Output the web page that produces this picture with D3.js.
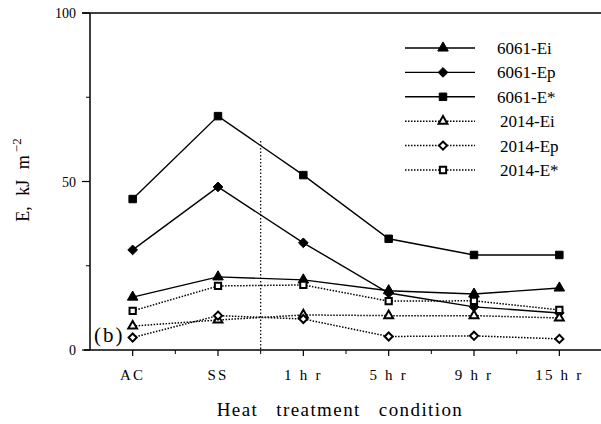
<!DOCTYPE html>
<html>
<head>
<meta charset="utf-8">
<script src="https://cdn.jsdelivr.net/npm/d3@7"></script>
<style>
  body { margin: 0; background: #fff; }
  svg { font-family: "Liberation Serif", "DejaVu Serif", serif; }
</style>
</head>
<body>
<div id="chart"></div>
<script>
// categories and series
const conditions = ['AC', 'SS', '1hr', '5hr', '9hr', '15hr'];
const tickLabels = ['AC', 'SS', '1 h r', '5 h r', '9 h r', '15 h r'];
const yTicks = [0, 50, 100];

const e6061Ei = [15.7, 21.7, 20.8, 17.6, 16.6, 18.4];
const e6061Ep = [29.7, 48.4, 31.8, 16.9, 12.8, 11.0];
const e6061Es = [44.8, 69.4, 51.9, 33.0, 28.2, 28.2];
const e2014Ei = [7.1, 8.9, 10.4, 10.2, 10.2, 9.5];
const e2014Ep = [3.7, 10.2, 9.2, 4.0, 4.2, 3.3];
const e2014Es = [11.6, 19.0, 19.3, 14.5, 14.6, 11.9];

const series = [
  {name: '6061-Ei', values: e6061Ei, shape: d3.symbolTriangle, filled: true, dotted: false},
  {name: '6061-Ep', values: e6061Ep, shape: d3.symbolDiamond2, filled: true, dotted: false},
  {name: '6061-E*', values: e6061Es, shape: d3.symbolSquare, filled: true, dotted: false},
  {name: '2014-Ei', values: e2014Ei, shape: d3.symbolTriangle, filled: false, dotted: true},
  {name: '2014-Ep', values: e2014Ep, shape: d3.symbolDiamond2, filled: false, dotted: true},
  {name: '2014-E*', values: e2014Es, shape: d3.symbolSquare, filled: false, dotted: true}
];

const width = 601, height = 424;
const svg = d3.select('#chart').append('svg')
  .attr('width', width)
  .attr('height', height);

// scales
const x = d3.scalePoint()
  .domain(conditions)
  .range([90, 602])
  .padding(0.5);
const step = x.step();

const y = d3.scaleLinear()
  .domain([0, 100])
  .range([350, 13]);

// frame: top line and left axis
svg.append('line')
  .attr('x1', 82).attr('x2', width)
  .attr('y1', y(100)).attr('y2', y(100))
  .attr('stroke', '#000').attr('stroke-width', 1.5);

svg.append('line')
  .attr('x1', 90).attr('x2', 90)
  .attr('y1', y(100)).attr('y2', y(0))
  .attr('stroke', '#000').attr('stroke-width', 1.5);

// bottom axis
svg.append('line')
  .attr('x1', 84).attr('x2', width)
  .attr('y1', y(0)).attr('y2', y(0))
  .attr('stroke', '#000').attr('stroke-width', 1.5);

// y ticks (major and minor)
yTicks.forEach(v => {
  svg.append('line')
    .attr('x1', 82).attr('x2', 90)
    .attr('y1', y(v)).attr('y2', y(v))
    .attr('stroke', '#000').attr('stroke-width', 1.2);
  svg.append('text')
    .attr('x', 76).attr('y', y(v) + 5)
    .attr('text-anchor', 'end')
    .attr('font-size', 14)
    .text(v);
});
[25, 75].forEach(v => {
  svg.append('line')
    .attr('x1', 86).attr('x2', 90)
    .attr('y1', y(v)).attr('y2', y(v))
    .attr('stroke', '#000').attr('stroke-width', 1);
});

// x ticks and labels
conditions.forEach((c, i) => {
  svg.append('line')
    .attr('x1', x(c)).attr('x2', x(c))
    .attr('y1', y(0)).attr('y2', y(0) + 6)
    .attr('stroke', '#000').attr('stroke-width', 1.2);
  svg.append('line')
    .attr('x1', x(c) + step / 2).attr('x2', x(c) + step / 2)
    .attr('y1', y(0)).attr('y2', y(0) + 4)
    .attr('stroke', '#000').attr('stroke-width', 1);
  svg.append('text')
    .attr('x', x(c)).attr('y', y(0) + 30)
    .attr('text-anchor', 'middle')
    .attr('font-size', 15)
    .attr('letter-spacing', 2.2)
    .text(tickLabels[i]);
});

// dotted separator between SS and 1hr
svg.append('line')
  .attr('x1', x('SS') + step / 2).attr('x2', x('SS') + step / 2)
  .attr('y1', y(62)).attr('y2', y(0))
  .attr('stroke', '#000').attr('stroke-width', 1.2)
  .attr('stroke-dasharray', '1.5,2');

// axis titles
svg.append('text')
  .attr('x', 340).attr('y', 416)
  .attr('text-anchor', 'middle')
  .attr('font-size', 19)
  .attr('letter-spacing', 1.4)
  .attr('word-spacing', 12)
  .text('Heat treatment condition');

const yTitle = svg.append('text')
  .attr('transform', 'translate(29,180) rotate(-90)')
  .attr('text-anchor', 'middle')
  .attr('font-size', 18)
  .attr('word-spacing', 6);
yTitle.append('tspan').text('E,  kJ  m');
yTitle.append('tspan').attr('dx', 3).attr('dy', -8).attr('font-size', 13).text('\u22122');

svg.append('text')
  .attr('x', 94).attr('y', 342)
  .attr('font-size', 21)
  .attr('letter-spacing', 2)
  .text('(b)');

// lines and markers
const line = d3.line()
  .x((d, i) => x(conditions[i]))
  .y(d => y(d));

function sizeOf(s) {
  let base = s.shape === d3.symbolTriangle ? 48 : s.shape === d3.symbolSquare ? 56 : 60;
  return s.filled ? base : base * 0.7;
}

series.forEach(s => {
  svg.append('path')
    .datum(s.values)
    .attr('d', line)
    .attr('fill', 'none')
    .attr('stroke', '#000')
    .attr('stroke-width', s.dotted ? 1.5 : 1.4)
    .attr('stroke-dasharray', s.dotted ? '1.5,1.5' : null);
});

series.forEach(s => {
  svg.selectAll(null)
    .data(s.values)
    .enter().append('path')
    .attr('transform', (d, i) => `translate(${x(conditions[i])},${y(d)})`)
    .attr('d', d3.symbol().type(s.shape).size(sizeOf(s)))
    .attr('fill', s.filled ? '#000' : '#fff')
    .attr('stroke', '#000')
    .attr('stroke-width', s.filled ? 1 : 2);
});

// legend
const legend = svg.append('g');
series.forEach((s, i) => {
  const ly = 48 + i * 24.4;
  legend.append('line')
    .attr('x1', 405).attr('x2', 475)
    .attr('y1', ly).attr('y2', ly)
    .attr('stroke', '#000')
    .attr('stroke-width', s.dotted ? 1.5 : 1.4)
    .attr('stroke-dasharray', s.dotted ? '1.5,1.5' : null);
  legend.append('path')
    .attr('transform', `translate(443,${ly})`)
    .attr('d', d3.symbol().type(s.shape).size(sizeOf(s)))
    .attr('fill', s.filled ? '#000' : '#fff')
    .attr('stroke', '#000')
    .attr('stroke-width', s.filled ? 1 : 2);
  legend.append('text')
    .attr('x', s.dotted ? 500 : 497).attr('y', ly + 6)
    .attr('font-size', 17)
    .text(s.name);
});
</script>
</body>
</html>
